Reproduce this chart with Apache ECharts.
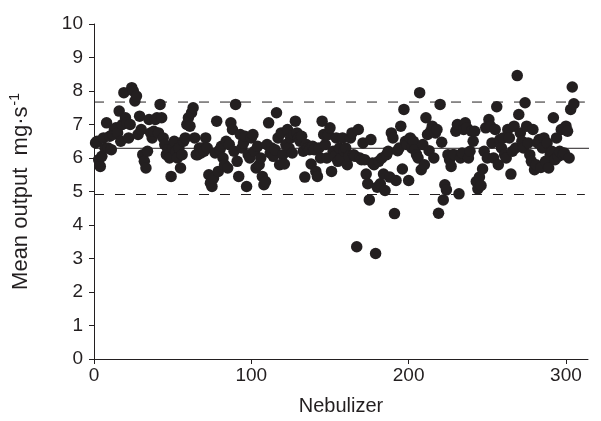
<!DOCTYPE html>
<html><head><meta charset="utf-8">
<script src="https://cdn.jsdelivr.net/npm/echarts@6/dist/echarts.min.js"></script>
<style>html,body{margin:0;padding:0;background:#fff}#c{width:601px;height:421px}</style>
</head><body><div id="c"></div>
<script>
// Mean output (mg·s-1) for nebulizers 1..305
const meanOutput = [
  6.45, 6.5, 5.95, 5.75, 6.05, 6.6, 6.3, 7.05, 6.3, 6.65,
  6.25, 6.7, 6.85, 6.9, 6.75, 7.4, 6.5, 7.0, 7.95, 7.2,
  7.05, 6.6, 7.0, 8.1, 8.0, 7.7, 7.85, 6.7, 7.25, 6.85,
  6.1, 5.9, 5.7, 6.2, 7.15, 6.75, 6.6, 6.8, 7.15, 7.2,
  6.75, 7.6, 7.2, 6.6, 6.4, 6.1, 6.25, 6.0, 5.45, 6.3,
  6.5, 6.2, 6.0, 6.3, 5.7, 6.1, 6.5, 6.6, 7.0, 7.2,
  6.95, 7.35, 7.5, 6.6, 6.1, 6.1, 6.3, 6.15, 6.3, 6.2,
  6.6, 6.3, 5.5, 5.25, 5.15, 5.4, 6.15, 7.1, 5.6, 6.25,
  6.35, 6.0, 5.8, 6.5, 5.7, 6.4, 7.05, 6.85, 6.2, 7.6,
  5.9, 5.45, 6.7, 6.3, 6.45, 6.65, 5.15, 6.1, 6.0, 6.6,
  6.7, 6.2, 5.7, 6.35, 5.8, 6.0, 5.45, 5.2, 5.3, 6.4,
  7.05, 6.15, 6.3, 6.05, 6.25, 7.35, 6.6, 5.8, 6.75, 6.1,
  5.82, 6.4, 6.85, 6.3, 6.6, 6.15, 6.7, 7.1, 6.75, 6.6,
  6.5, 6.65, 6.2, 5.43, 6.4, 6.3, 6.25, 5.82, 6.35, 6.25,
  5.6, 5.45, 6.3, 6.0, 7.1, 6.7, 6.4, 6.0, 6.7, 6.9,
  5.6, 6.2, 6.05, 6.6, 5.9, 6.3, 6.0, 6.6, 6.2, 6.3,
  5.8, 6.05, 6.6, 6.75, 6.1, 6.05, 3.35, 6.85, 6.0, 5.95,
  6.45, 5.95, 5.52, 5.23, 4.75, 6.55, 5.85, 5.8, 3.15, 5.13,
  5.9, 5.23, 6.0, 5.52, 5.03, 6.1, 6.2, 5.43, 6.75, 6.6,
  4.34, 5.33, 6.22, 6.3, 6.95, 5.67, 7.45, 6.5, 6.4, 5.33,
  6.6, 6.3, 6.5, 6.25, 6.1, 6.0, 7.95, 5.65, 6.4, 5.8,
  7.2, 6.7, 6.22, 6.8, 6.95, 6.0, 6.75, 6.85, 4.35, 7.6,
  6.47, 4.75, 5.2, 5.05, 6.1, 5.95, 5.75, 6.1, 6.1, 6.8,
  7.0, 4.93, 6.0, 6.15, 6.85, 7.05, 6.9, 6.0, 6.2, 6.8,
  6.5, 6.8, 5.3, 5.08, 5.43, 5.18, 5.67, 6.2, 6.9, 6.0,
  7.15, 6.95, 6.45, 6.0, 6.85, 7.53, 5.8, 6.55, 6.3, 6.6,
  6.1, 6.0, 6.85, 6.6, 5.52, 6.2, 6.95, 6.3, 8.46, 7.3,
  6.75, 6.5, 6.3, 7.65, 6.95, 6.45, 6.1, 5.9, 6.85, 5.65,
  5.8, 6.45, 6.55, 5.72, 6.3, 6.6, 5.9, 6.45, 5.7, 6.1,
  6.2, 7.2, 5.95, 6.6, 6.05, 6.2, 6.85, 6.1, 6.15, 6.95,
  6.8, 6.0, 7.45, 8.12, 7.62
];
const meanValue = 6.29;
const upperLimit = 7.67;
const lowerLimit = 4.91;
const xTickValues = [0, 100, 200, 300];

const ink = '#231f20';
const font = '"Liberation Sans", Arial, Helvetica, sans-serif';
const chart = echarts.init(document.getElementById('c'), null, {renderer: 'canvas'});

chart.setOption({
  animation: false,
  backgroundColor: '#ffffff',
  grid: {left: 92, top: 24, right: 13, bottom: 60, containLabel: false},
  xAxis: {
    type: 'value', min: 0, max: 314,
    name: 'Nebulizer', nameLocation: 'middle', nameGap: 37,
    nameTextStyle: {color: ink, fontSize: 20, fontFamily: font},
    splitLine: {show: false},
    axisLine: {show: true, onZero: false, lineStyle: {color: ink, width: 1}},
    axisTick: {show: true, length: 5, lineStyle: {color: ink}, customValues: xTickValues},
    axisLabel: {color: ink, fontSize: 19, fontFamily: font, margin: 7, customValues: xTickValues}
  },
  yAxis: {
    type: 'value', min: 0, max: 10, interval: 1,
    name: 'Mean output  mg·s{sup|-1}', nameLocation: 'middle', nameGap: 61, nameRotate: 90,
    nameTextStyle: {color: ink, fontSize: 22, fontFamily: font,
      rich: {sup: {fontSize: 14, fontFamily: font, color: ink, padding: [0, 0, 11, 1]}}},
    splitLine: {show: false},
    axisLine: {show: true, lineStyle: {color: ink, width: 1}},
    axisTick: {show: true, length: 5, lineStyle: {color: ink}},
    axisLabel: {color: ink, fontSize: 19, fontFamily: font, margin: 11}
  },
  series: [
    {
      type: 'line', data: [[0, upperLimit], [312, upperLimit]], symbol: 'none', clip: false, silent: true,
      lineStyle: {color: ink, width: 1, type: [10, 11]}, z: 1
    },
    {
      type: 'line', data: [[0, lowerLimit], [312, lowerLimit]], symbol: 'none', clip: false, silent: true,
      lineStyle: {color: ink, width: 1, type: [10, 11]}, z: 1
    },
    {
      type: 'line', data: [[0, meanValue], [320, meanValue]], symbol: 'none', clip: false, silent: true,
      lineStyle: {color: ink, width: 1}, z: 1
    },
    {
      type: 'scatter', data: meanOutput.map((v, i) => [i + 1, v]),
      symbol: 'circle', symbolSize: 11.5, itemStyle: {color: ink, opacity: 1}, z: 2
    }
  ]
});
</script>
</body></html>
